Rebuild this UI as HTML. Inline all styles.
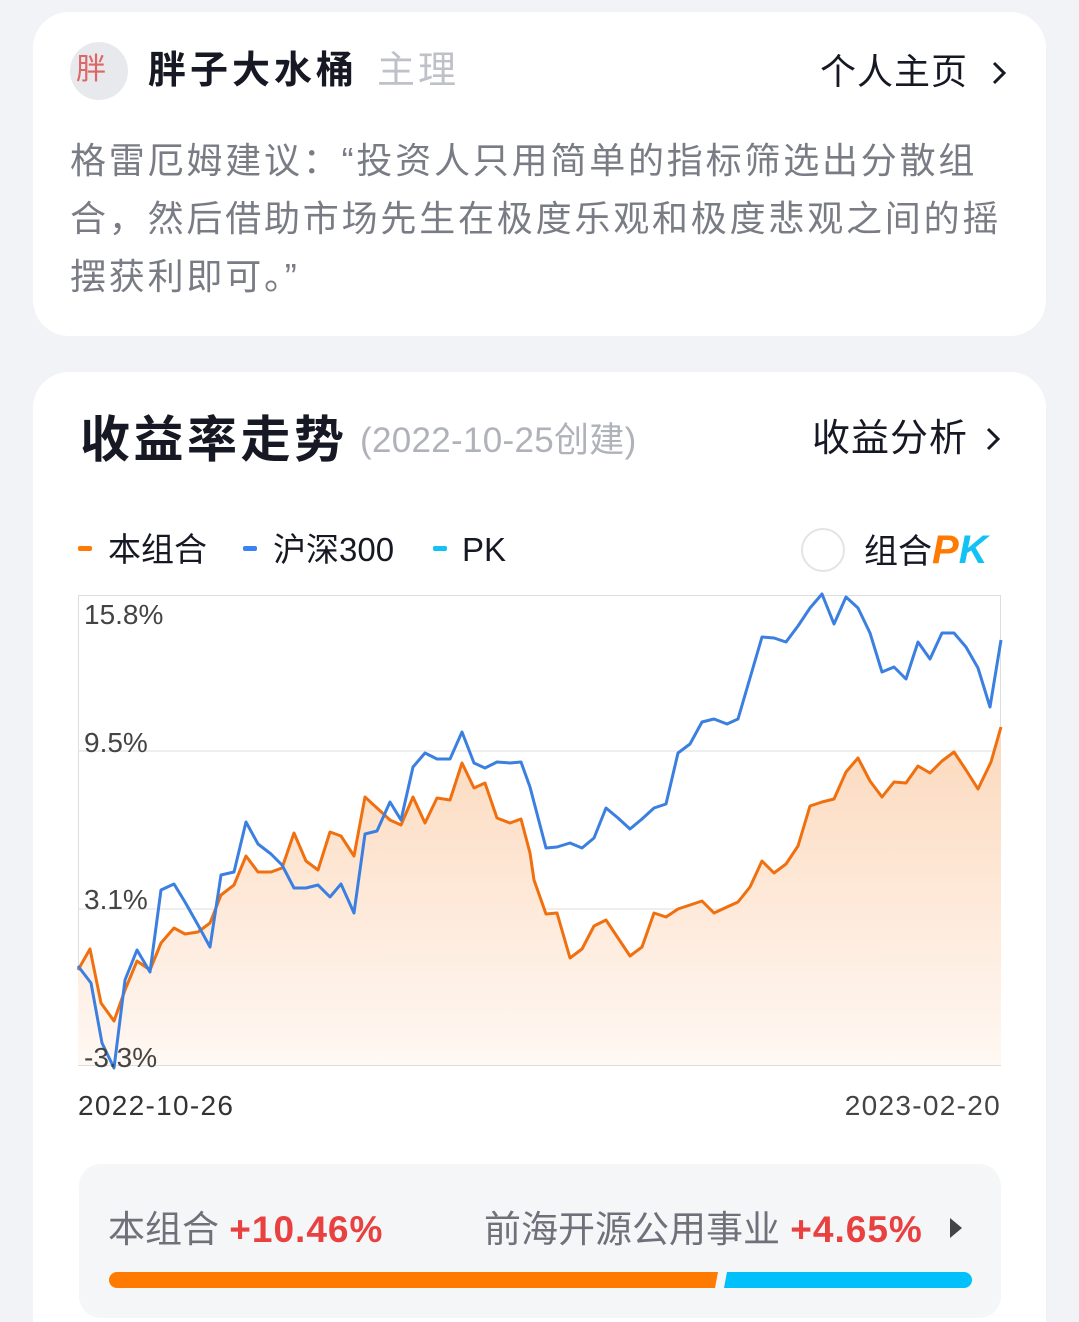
<!DOCTYPE html>
<html><head><meta charset="utf-8"><style>
html,body{margin:0;width:1079px;height:1322px;overflow:hidden}
body{background:#f2f3f7;position:relative;font-family:"Liberation Sans","Noto Sans CJK SC",sans-serif}
.a{position:absolute;white-space:nowrap}
.card{position:absolute;background:#fff;border-radius:36px}
.dash{position:absolute;width:14px;height:5px;border-radius:2px}
</style></head><body>
<div class="card" style="left:33px;top:12px;width:1013px;height:324px"></div>
<div class="card" style="left:33px;top:372px;width:1013px;height:1000px"></div>
<div class="a" style="left:70px;top:42px;width:58px;height:58px;border-radius:50%;background:#e8e9ec"></div>
<div class="a" style="left:76px;top:52px;font-size:30px;color:#d66;line-height:36px">胖</div>
<div class="a" style="left:148px;top:46px;font-size:38px;font-weight:bold;color:#161823;line-height:50px;letter-spacing:4px">胖子大水桶</div>
<div class="a" style="left:377px;top:46px;font-size:38px;color:#bfc1c8;line-height:50px;letter-spacing:3px">主理</div>
<div class="a" style="left:820px;top:48px;font-size:36px;color:#161823;line-height:48px;letter-spacing:1px">个人主页</div>
<svg class="a" style="left:990px;top:60px" width="20" height="26"><polyline points="4,3 14,13 4,23" fill="none" stroke="#161823" stroke-width="3"/></svg>
<div class="a" style="left:70px;top:132px;font-size:36px;color:#7a7c85;line-height:58px;letter-spacing:2.8px">格雷厄姆建议：“投资人只用简单的指标筛选出分散组<br>合，然后借助市场先生在极度乐观和极度悲观之间的摇<br>摆获利即可。”</div>
<div class="a" style="left:80px;top:408px;font-size:50px;font-weight:bold;color:#161823;line-height:64px;letter-spacing:3.5px">收益率走势</div>
<div class="a" style="left:360px;top:418px;font-size:35px;color:#b0b2ba;line-height:46px;letter-spacing:0.3px">(2022-10-25创建)</div>
<div class="a" style="left:812px;top:414px;font-size:38px;color:#161823;line-height:50px;letter-spacing:1px">收益分析</div>
<svg class="a" style="left:984px;top:426px" width="20" height="26"><polyline points="4,3 14,13 4,23" fill="none" stroke="#161823" stroke-width="3"/></svg>
<div class="dash" style="left:78px;top:546px;background:#ff7a00"></div>
<div class="a" style="left:108px;top:527px;font-size:33px;color:#161823;line-height:46px">本组合</div>
<div class="dash" style="left:243px;top:546px;background:#3b82f6"></div>
<div class="a" style="left:273px;top:527px;font-size:33px;color:#161823;line-height:46px">沪深300</div>
<div class="dash" style="left:433px;top:546px;background:#12c2f4"></div>
<div class="a" style="left:462px;top:527px;font-size:33px;color:#161823;line-height:46px">PK</div>
<div class="a" style="left:801px;top:528px;width:40px;height:40px;border-radius:50%;border:2px solid #e4e4e6"></div>
<div class="a" style="left:864px;top:527px;font-size:34px;color:#161823;line-height:46px">组合<b style="font-style:italic;color:#ff7a00;font-size:40px">P</b><b style="font-style:italic;color:#12c2f4;font-size:40px">K</b></div>
<svg class="a" style="left:0;top:0" width="1079" height="1322">
<defs><linearGradient id="g" x1="0" y1="0" x2="0" y2="1"><stop offset="0" stop-color="#fcd9bd"/><stop offset="1" stop-color="#fff8f3"/></linearGradient></defs>
<rect x="78.5" y="595.5" width="922" height="470" fill="none" stroke="#ddd" stroke-width="1"/>
<line x1="78" y1="751" x2="1000" y2="751" stroke="#ddd"/>
<line x1="78" y1="909" x2="1000" y2="909" stroke="#ddd"/>
<polygon fill="url(#g)" points="78,1065 78,970 90,949 101,1003 114,1021 125,990 137,961 150,970 161,943 174,928 185,934 198,932 210,923 221,895 234,885 246,856 258,872 271,872 282,868 294,833 306,861 318,870 330,832 341,836 354,856 365,797 377,808 390,820 401,825 413,797 425,823 437,798 450,800 462,763 474,788 485,783 497,818 510,823 521,819 530,853 534,880 546,914 557,913 570,958 582,949 594,926 606,920 618,938 630,956 642,947 654,913 666,917 678,909 690,905 702,901 714,913 727,907 738,902 750,887 762,861 774,873 786,864 798,846 810,806 822,802 834,799 846,772 858,758 870,781 882,797 894,782 906,783 918,766 930,773 942,761 954,752 966,770 978,789 991,762 1001,727 1001,1065"/>
<polyline fill="none" stroke="#f06f0f" stroke-width="3" stroke-linejoin="round" points="78,970 90,949 101,1003 114,1021 125,990 137,961 150,970 161,943 174,928 185,934 198,932 210,923 221,895 234,885 246,856 258,872 271,872 282,868 294,833 306,861 318,870 330,832 341,836 354,856 365,797 377,808 390,820 401,825 413,797 425,823 437,798 450,800 462,763 474,788 485,783 497,818 510,823 521,819 530,853 534,880 546,914 557,913 570,958 582,949 594,926 606,920 618,938 630,956 642,947 654,913 666,917 678,909 690,905 702,901 714,913 727,907 738,902 750,887 762,861 774,873 786,864 798,846 810,806 822,802 834,799 846,772 858,758 870,781 882,797 894,782 906,783 918,766 930,773 942,761 954,752 966,770 978,789 991,762 1001,727"/>
<polyline fill="none" stroke="#3b7fe0" stroke-width="3" stroke-linejoin="round" points="78,966 91,983 102,1043 114,1068 125,980 137,950 150,972 161,890 174,884 185,902 198,925 210,947 221,875 234,872 246,822 258,844 271,854 282,865 294,888 306,888 318,885 330,897 341,884 354,913 365,834 377,831 390,802 401,820 413,767 425,753 437,759 450,759 462,732 474,763 485,768 497,762 510,763 521,762 530,787 546,848 557,847 570,843 582,848 594,838 606,808 618,818 630,829 642,819 654,808 666,804 678,753 690,744 702,722 714,719 727,724 738,719 750,678 762,637 774,638 786,642 798,626 810,608 822,594 834,624 846,597 858,608 870,633 882,672 894,667 906,679 918,642 930,659 942,633 954,633 966,647 978,668 990,707 1001,640"/>
<g font-family="Liberation Sans,sans-serif" font-size="28" fill="#444">
<text x="84" y="624">15.8%</text><text x="84" y="752">9.5%</text><text x="84" y="909">3.1%</text><text x="84" y="1067">-3.3%</text>
<text x="78" y="1115" fill="#333" letter-spacing="1.3">2022-10-26</text><text x="1001" y="1115" text-anchor="end" letter-spacing="1.3">2023-02-20</text>
</g>
<rect x="79" y="1164" width="922" height="154" rx="22" fill="#f5f6f8"/>
<text x="108" y="1242" font-size="37" fill="#6f717a" font-family="Liberation Sans,Noto Sans CJK SC,sans-serif">本组合 <tspan fill="#e8413f" font-weight="bold" letter-spacing="1">+10.46%</tspan></text>
<text x="484" y="1242" font-size="37" fill="#6f717a" font-family="Liberation Sans,Noto Sans CJK SC,sans-serif">前海开源公用事业 <tspan fill="#e8413f" font-weight="bold" letter-spacing="1">+4.65%</tspan></text>
<polygon points="950,1218 962,1228 950,1238" fill="#444"/>
<path d="M117,1272 H718 L715,1288 H117 A8,8 0 0 1 117,1272Z" fill="#ff7a00"/>
<path d="M727,1272 H964 A8,8 0 0 1 964,1288 H724Z" fill="#00c0fb"/>
</svg>
</body></html>
